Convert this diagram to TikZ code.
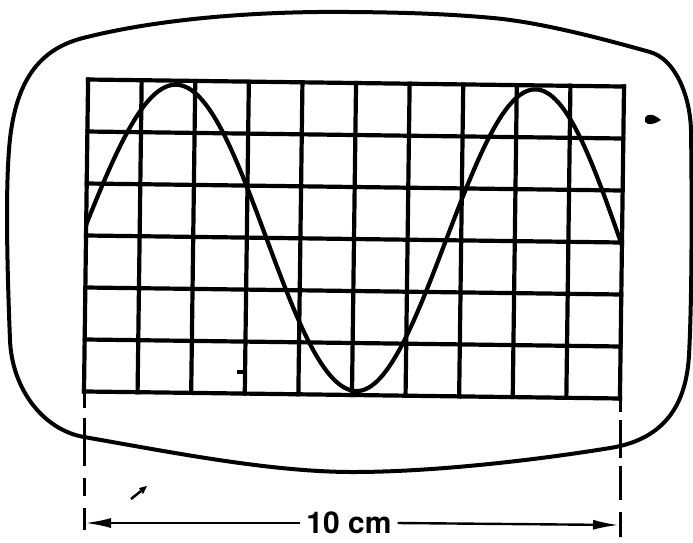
\documentclass[tikz,border=0pt]{standalone}
\usepackage{fontspec}
\setmainfont{TeX Gyre Heros}
\usetikzlibrary{arrows.meta}
\begin{document}
\begin{tikzpicture}[x=1pt,y=-1pt,
  outline/.style={line width=4pt, line join=round},
  gridline/.style={line width=4.2pt, line cap=rect},
  wave/.style={line width=4.2pt, line cap=round, line join=round},
  dimdash/.style={line width=3pt},
  dimline/.style={line width=2.4pt, -{Latex[length=26pt,width=10pt]}},
  lbl/.style={font=\fontsize{30}{30}\selectfont\bfseries, inner sep=6pt},
  speck/.style={fill=black}
]
\useasboundingbox (0,0) rectangle (693,542);
\fill[white] (0,0) rectangle (693,542);

% screen outline
\draw[outline] (83,38)
  .. controls (160,18.3) and (260,11) .. (350,12)
  .. controls (420,12.5) and (460,15) .. (493,18)
  .. controls (540,22.3) and (600,38) .. (650,52)
  .. controls (675,59) and (690,95) .. (691,130)
  .. controls (692,200) and (692,300) .. (689,355)
  .. controls (686,410) and (660,440) .. (610,448)
  .. controls (530,461) and (430,472) .. (353,472)
  .. controls (270,472) and (170,452) .. (84,437)
  .. controls (44,430) and (12,390) .. (10,340)
  .. controls (8,290) and (5,200) .. (9,150)
  .. controls (14,80) and (40,49) .. cycle;

% graticule and trace
\begin{scope}[rotate around={-0.75:(354,239)}]
  \foreach \i in {0,...,10}
    \draw[gridline] ({86+53.6*\i},83) -- ({86+53.6*\i},395);
  \foreach \j in {0,...,6}
    \draw[gridline] (86,{83+52*\j}) -- (622,{83+52*\j});
  \draw[wave]
    plot[domain=86:358.5, samples=90] (\x,{239-152*cos((\x-174)/184.5*180)})
    -- plot[domain=358.5:622, samples=90] (\x,{239-152*cos(180+(\x-358.5)/175*180)});
\end{scope}

% extension lines
\coordinate (gl) at (84,392);
\coordinate (gle) at (84,530);
\coordinate (gr) at (620,397);
\coordinate (gre) at (620,537);
\draw[dimdash, dash pattern=on 16pt off 10pt on 48pt off 12pt on 18pt off 12pt on 22pt off 0pt] (gl) -- (gle);
\draw[dimdash, dash pattern=on 15pt off 8pt on 38pt off 8pt on 34pt off 12pt on 25pt off 0pt] (gr) -- (gre);

% dimension
\node[lbl] (L) at (349,523) {10 cm};
\coordinate (dl) at (85,523);
\coordinate (dr) at (619,525);
\draw[dimline] (L.west) -- (dl);
\draw[dimline] (L.east) -- (dr);

% small marks
\fill[speck] (645,118) .. controls (648,112) and (655,115) .. (661,120)
  .. controls (655,124) and (648,126) .. (645,122) -- cycle;
\draw[line width=2.5pt] (131,499) -- (141,491);
\fill[speck] (139,488) -- (147,486) -- (143,494) -- cycle;
\draw[line width=4pt] (237,372) -- (246,372);
\end{tikzpicture}
\end{document}
